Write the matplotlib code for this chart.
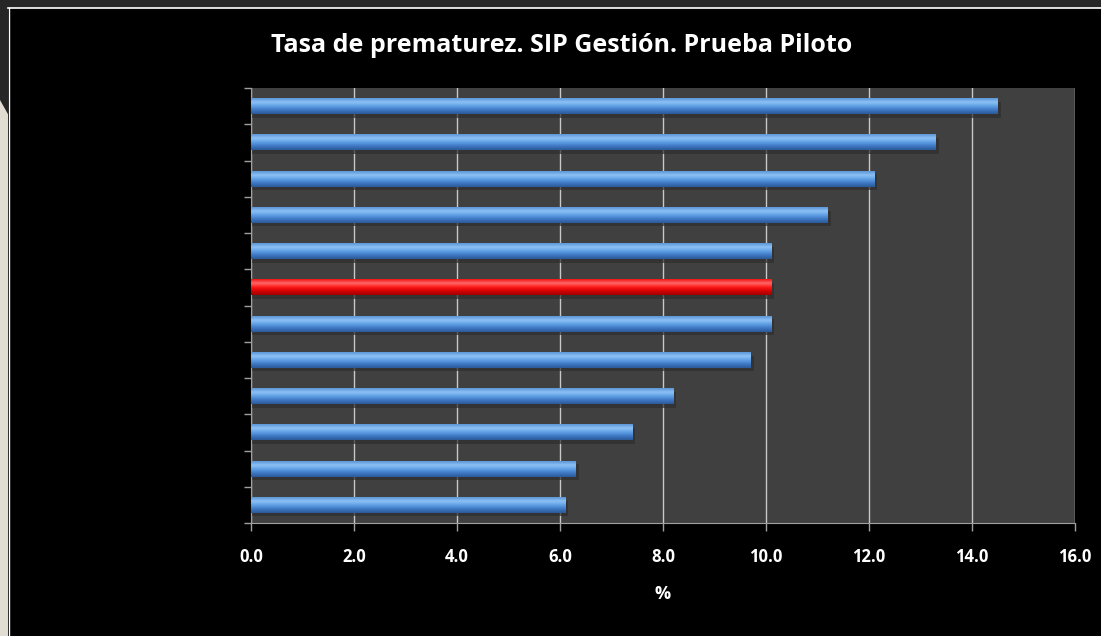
import numpy as np
import matplotlib
matplotlib.use("Agg")
import matplotlib.pyplot as plt
from matplotlib.patches import Rectangle, Polygon
from matplotlib.colors import LinearSegmentedColormap

# Preterm birth rate per unit (top to bottom), in %
values = [14.5, 13.3, 12.1, 11.2, 10.1, 10.1, 10.1, 9.7, 8.2, 7.4, 6.3, 6.1]
highlight = [False, False, False, False, False, True, False, False, False, False, False, False]
xticks = [0.0, 2.0, 4.0, 6.0, 8.0, 10.0, 12.0, 14.0, 16.0]

title = "Tasa de prematurez. SIP Gestión. Prueba Piloto"
xlabel = "%"

W, H = 1101, 636
fig = plt.figure(figsize=(W / 100, H / 100), dpi=100)
fig.patch.set_facecolor("#262626")

def fx(px):
    return px / W

def fy(py):
    return 1 - py / H

# slide background: beige strip on the left, black panel with a thin white edge
fig.patches.append(Polygon([(fx(0), fy(100)), (fx(9), fy(116)), (fx(9), fy(H)), (fx(0), fy(H))],
                           closed=True, transform=fig.transFigure, facecolor="#e2ddd3",
                           edgecolor="none", zorder=0))
fig.patches.append(Rectangle((fx(8), 0), 1 - fx(8), fy(8), transform=fig.transFigure,
                             facecolor="black", edgecolor="none", zorder=1))
fig.lines.append(plt.Line2D([fx(8), 1], [fy(8), fy(8)], transform=fig.transFigure,
                            color="white", lw=1.2, zorder=2))
fig.lines.append(plt.Line2D([fx(8.5), fx(8.5)], [fy(8), 0], transform=fig.transFigure,
                            color="white", lw=1.0, zorder=2))

left, right, top, bottom = 251, 1075, 88, 523
ax = fig.add_axes([fx(left), fy(bottom), fx(right - left), (bottom - top) / H])
ax.set_facecolor("#404040")
ax.set_zorder(3)

n = len(values)
ypos = np.arange(n)[::-1]
bh = 0.44

blue = LinearSegmentedColormap.from_list("b", ["#2b5a99", "#3f78c4", "#5f9fe6", "#8ec2f5", "#5a95d8"])
red = LinearSegmentedColormap.from_list("r", ["#9c0000", "#d40000", "#ff1a1a", "#ff6a6a", "#f01010"])
grad = np.linspace(0, 1, 64).reshape(-1, 1)

for y, v, hi in zip(ypos, values, highlight):
    # soft shadow under each bar
    ax.barh(y - 0.1, v + 0.06, height=bh, left=0, color="#2e2e2e", alpha=0.7, zorder=2)
    ax.imshow(grad, extent=[0, v, y - bh / 2, y + bh / 2], origin="lower",
              cmap=red if hi else blue, aspect="auto", interpolation="bicubic", zorder=3)

ax.set_xlim(0, 16)
ax.set_ylim(-0.5, n - 0.5)
ax.set_xticks(xticks)
ax.set_xticklabels([f"{t:.1f}" for t in xticks], color="white", fontsize=12,
                   fontweight="bold", fontfamily="Open Sans")
ax.set_yticks(np.arange(-0.5, n, 1.0))
ax.set_yticklabels([])
ax.tick_params(axis="x", colors="#a0a0a0", length=6, width=1, pad=12, labelcolor="white")
ax.tick_params(axis="y", colors="#a0a0a0", length=5, width=1)
ax.grid(axis="x", color="#c8c8c8", lw=1, zorder=1)
ax.set_axisbelow(True)
for s in ["top", "right"]:
    ax.spines[s].set_visible(False)
for s in ["left", "bottom"]:
    ax.spines[s].set_color("#a0a0a0")

ax.set_xlabel(xlabel, color="white", fontsize=13, fontweight="bold",
              fontfamily="Open Sans", labelpad=14)

fig.text(fx(562), fy(46), title, ha="center", va="center", color="white",
         fontsize=18, fontweight="bold", fontfamily="Open Sans", zorder=5)

fig.savefig("out.png", dpi=100, facecolor=fig.get_facecolor())
